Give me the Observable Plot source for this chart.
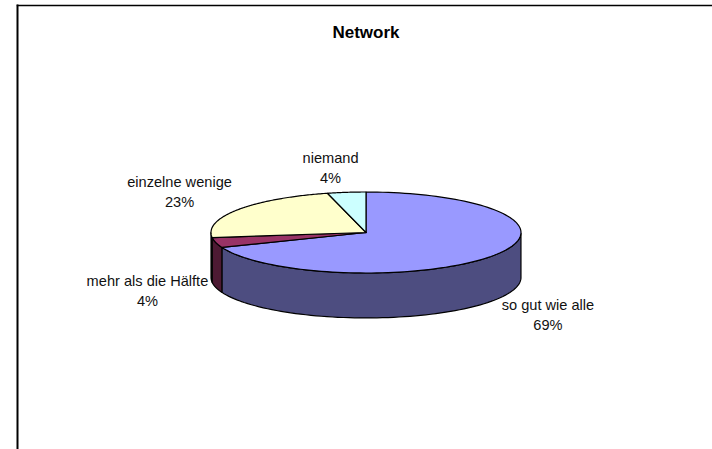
<!DOCTYPE html>
<html><head><meta charset="utf-8">
<script src="https://cdn.jsdelivr.net/npm/d3@7"></script>
<script src="https://cdn.jsdelivr.net/npm/@observablehq/plot@0.6"></script>
<style>html,body{margin:0;padding:0;background:#fff}svg{display:block}</style>
</head><body><div id="chart"></div>
<script>
const categories = ["so gut wie alle", "mehr als die Hälfte", "einzelne wenige", "niemand"];
const shares = [69, 4, 23, 4];
const topColors = ["#9999FF", "#993366", "#FFFFCC", "#CCFFFF"];
const sideColors = ["#4D4D80", "#4D1A33", "#808066", "#668080"];
const titleText = "Network";
// label anchors, in pie radii from the centre (y downward)
const labelX = [1.174, -1.41, -1.203, -0.229];
const labelY = [2.0, 1.42, -1.03, -1.63];

const depth = 1.11;            // rim height in vertical radii
const cum = d3.cumsum(shares);
const total = cum[cum.length - 1];
const angle = v => v / total * 2 * Math.PI;
const arc = (a, b, n = 120) => d3.range(n + 1).map(i => {
  const t = angle(a + (b - a) * i / n);
  return [Math.sin(t), -Math.cos(t)];
});

const tops = [], sides = [];
shares.forEach((v, i) => {
  const a = i ? cum[i - 1] : 0, b = cum[i];
  const rim = arc(a, b);
  [[0, 0], ...rim, [0, 0]].forEach(([x, y]) => tops.push({i, x, y}));
  // visible rim: the lower half of the ellipse only
  const front = rim.filter(([x, y]) => y >= 0);
  if (front.length) {
    [...front, ...front.slice().reverse().map(([x, y]) => [x, y + depth]), front[0]]
      .forEach(([x, y]) => sides.push({i, x, y}));
  }
});
const labels = categories.map((c, i) => ({c, p: shares[i] + "%", x: labelX[i], y: labelY[i]}));

const plot = Plot.plot({
  width: 712, height: 449,
  marginLeft: 17, marginTop: 5, marginRight: 0, marginBottom: 0,
  x: {domain: [-1, 1], range: [210.5, 520.5], axis: null},
  y: {domain: [-1, 1], range: [191.5, 272.5], axis: null},
  style: {background: "#fff", fontFamily: "'Liberation Sans', Arial, sans-serif"},
  marks: [
    Plot.frame({anchor: "top", stroke: "#000", strokeWidth: 1.5}),
    Plot.frame({anchor: "left", stroke: "#000", strokeWidth: 2}),
    Plot.line(sides, {x: "x", y: "y", z: "i", fill: d => sideColors[d.i], stroke: "#000", strokeWidth: 1.2, strokeLinejoin: "round"}),
    Plot.line(tops, {x: "x", y: "y", z: "i", fill: d => topColors[d.i], stroke: "#000", strokeWidth: 1.2, strokeLinejoin: "round"}),
    Plot.text(labels, {x: "x", y: "y", text: d => d.c + "\n" + d.p, fontSize: 14.6, lineHeight: 1.35, fill: "#111"}),
    Plot.text([titleText], {frameAnchor: "top", dy: 20, dx: 1, fontSize: 17, fontWeight: "bold", fill: "#000"})
  ]
});
document.getElementById("chart").append(plot);
</script></body></html>
